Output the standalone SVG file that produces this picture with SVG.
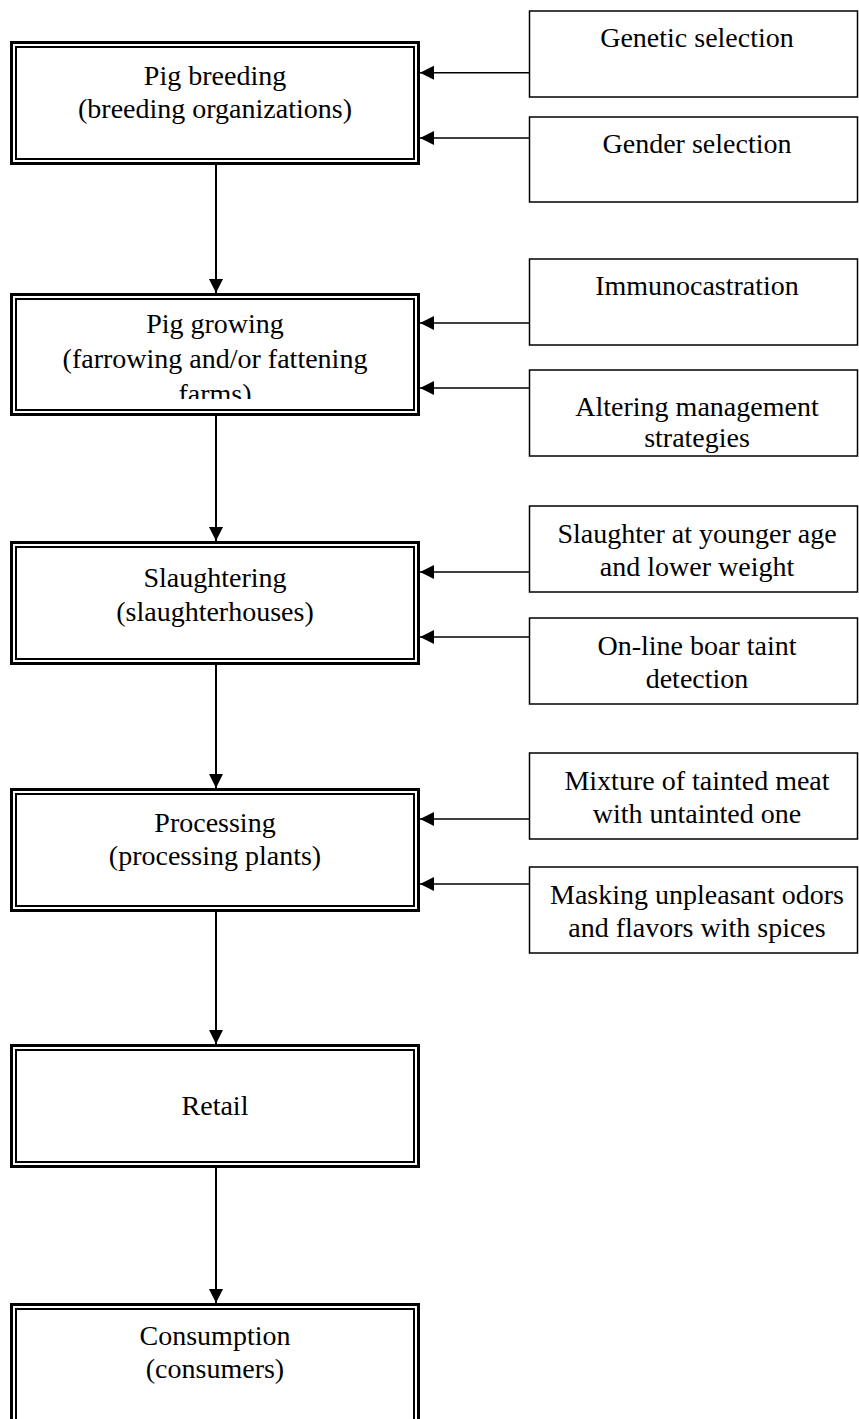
<svg xmlns="http://www.w3.org/2000/svg" width="859" height="1419" viewBox="0 0 859 1419">
<style>
.t{font-family:"Liberation Serif","Times New Roman",serif;font-size:28px;fill:#000;text-anchor:middle}
.o{fill:#fff;stroke:#000;stroke-width:3}
.i{fill:none;stroke:#000;stroke-width:2}
.r{fill:#fff;stroke:#000;stroke-width:1.5}
.v{stroke:#000;stroke-width:2;fill:none}
.h{stroke:#000;stroke-width:1.5;fill:none}
</style>
<defs>
<marker id="ah" markerUnits="userSpaceOnUse" markerWidth="14" markerHeight="14" refX="14" refY="7" orient="auto">
<path d="M0,0 L14,7 L0,14 z" fill="#000"/>
</marker>
<clipPath id="c2"><rect x="0" y="290" width="430" height="109"/></clipPath>
</defs>
<rect width="859" height="1419" fill="#fff"/>
<g id="connectors">
<line class="v" x1="216" y1="165" x2="216" y2="293" marker-end="url(#ah)"/>
<line class="v" x1="216" y1="416" x2="216" y2="541" marker-end="url(#ah)"/>
<line class="v" x1="216" y1="665" x2="216" y2="788" marker-end="url(#ah)"/>
<line class="v" x1="216" y1="912" x2="216" y2="1044" marker-end="url(#ah)"/>
<line class="v" x1="216" y1="1168" x2="216" y2="1303" marker-end="url(#ah)"/>
<line class="h" x1="529" y1="72.7" x2="420" y2="72.7" marker-end="url(#ah)"/>
<line class="h" x1="529" y1="138" x2="420" y2="138" marker-end="url(#ah)"/>
<line class="h" x1="529" y1="323" x2="420" y2="323" marker-end="url(#ah)"/>
<line class="h" x1="529" y1="388" x2="420" y2="388" marker-end="url(#ah)"/>
<line class="h" x1="529" y1="572" x2="420" y2="572" marker-end="url(#ah)"/>
<line class="h" x1="529" y1="637" x2="420" y2="637" marker-end="url(#ah)"/>
<line class="h" x1="529" y1="819" x2="420" y2="819" marker-end="url(#ah)"/>
<line class="h" x1="529" y1="884" x2="420" y2="884" marker-end="url(#ah)"/>
</g>
<g id="pig-breeding">
<rect class="o" x="11.5" y="42.5" width="407" height="121"/>
<rect class="i" x="16" y="47" width="398" height="112"/>
<text class="t" x="215" y="85">Pig breeding</text>
<text class="t" x="215" y="118">(breeding organizations)</text>
</g>
<g id="pig-growing">
<rect class="o" x="11.5" y="294.5" width="407" height="120"/>
<rect class="i" x="16" y="299" width="398" height="111"/>
<g clip-path="url(#c2)">
<text class="t" x="215" y="333">Pig growing</text>
<text class="t" x="215" y="368">(farrowing and/or fattening</text>
<text class="t" x="215" y="403">farms)</text>
</g>
</g>
<g id="slaughtering">
<rect class="o" x="11.5" y="542.5" width="407" height="121"/>
<rect class="i" x="16" y="547" width="398" height="112"/>
<text class="t" x="215" y="587">Slaughtering</text>
<text class="t" x="215" y="621">(slaughterhouses)</text>
</g>
<g id="processing">
<rect class="o" x="11.5" y="789.5" width="407" height="121"/>
<rect class="i" x="16" y="794" width="398" height="112"/>
<text class="t" x="215" y="832">Processing</text>
<text class="t" x="215" y="865">(processing plants)</text>
</g>
<g id="retail">
<rect class="o" x="11.5" y="1045.5" width="407" height="121"/>
<rect class="i" x="16" y="1050" width="398" height="112"/>
<text class="t" x="215" y="1115">Retail</text>
</g>
<g id="consumption">
<rect class="o" x="11.5" y="1304.5" width="407" height="121"/>
<rect class="i" x="16" y="1309" width="398" height="112"/>
<text class="t" x="215" y="1345">Consumption</text>
<text class="t" x="215" y="1378">(consumers)</text>
</g>
<g id="genetic-selection">
<rect class="r" x="529.5" y="11" width="328" height="86"/>
<text class="t" x="697" y="47">Genetic selection</text>
</g>
<g id="gender-selection">
<rect class="r" x="529.5" y="117" width="328" height="85"/>
<text class="t" x="697" y="153">Gender selection</text>
</g>
<g id="immunocastration">
<rect class="r" x="529.5" y="259" width="328" height="86"/>
<text class="t" x="697" y="295">Immunocastration</text>
</g>
<g id="altering-management">
<rect class="r" x="529.5" y="370" width="328" height="86"/>
<text class="t" x="697" y="416">Altering management</text>
<text class="t" x="697" y="447">strategies</text>
</g>
<g id="slaughter-younger">
<rect class="r" x="529.5" y="506" width="328" height="86"/>
<text class="t" x="697" y="543">Slaughter at younger age</text>
<text class="t" x="697" y="576">and lower weight</text>
</g>
<g id="online-detection">
<rect class="r" x="529.5" y="618" width="328" height="86"/>
<text class="t" x="697" y="655">On-line boar taint</text>
<text class="t" x="697" y="688">detection</text>
</g>
<g id="mixture">
<rect class="r" x="529.5" y="753" width="328" height="86"/>
<text class="t" x="697" y="790">Mixture of tainted meat</text>
<text class="t" x="697" y="823">with untainted one</text>
</g>
<g id="masking">
<rect class="r" x="529.5" y="867" width="328" height="86"/>
<text class="t" x="697" y="904">Masking unpleasant odors</text>
<text class="t" x="697" y="937">and flavors with spices</text>
</g>
</svg>
